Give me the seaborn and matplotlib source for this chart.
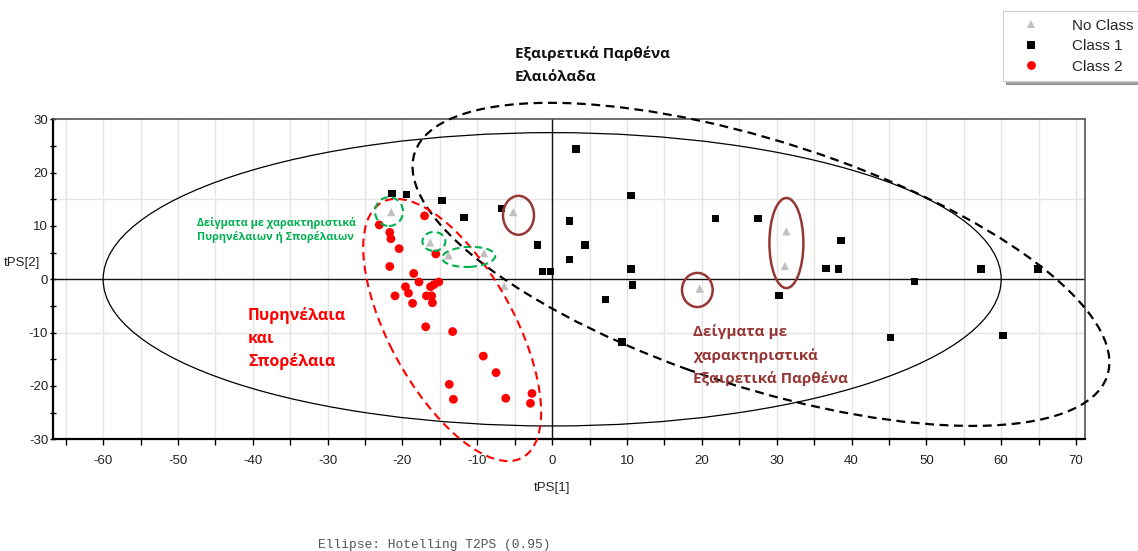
import matplotlib
matplotlib.use("Agg")
import matplotlib.pyplot as plt
from matplotlib.patches import Ellipse
from matplotlib.ticker import MultipleLocator
import numpy as np
import pandas as pd
import seaborn as sns

# --- score values (tPS[1], tPS[2]) per class ---
class1_t1 = [3.2, -21.4, -19.5, -14.7, 10.55, -6.8, -11.8, 21.8, 2.3, -2.0,
             4.4, 2.3, -1.25, -0.2, 10.55, 10.7, 7.1, 9.35, 27.5, 38.6,
             36.6, 38.3, 64.9, 57.3, 48.4, 30.3, 45.2, 60.25]
class1_t2 = [24.4, 16.1, 15.9, 14.8, 15.75, 13.3, 11.6, 11.4, 10.9, 6.4,
             6.4, 3.75, 1.5, 1.5, 1.9, -1.1, -3.75, -11.75, 11.4, 7.3,
             2.06, 1.9, 1.9, 1.9, -0.4, -3.0, -10.9, -10.5]

class2_t1 = [-17.05, -23.1, -21.7, -21.55, -20.45, -15.55, -21.7, -18.5, -17.8, -19.6,
             -16.25, -15.8, -15.15, -19.2, -21.0, -16.8, -16.1, -18.65, -16.0, -16.9,
             -13.3, -9.2, -7.5, -13.75, -13.2, -6.2, -2.7, -2.9]
class2_t2 = [11.9, 10.2, 8.8, 7.6, 5.75, 4.75, 2.4, 1.1, -0.5, -1.4,
             -1.4, -1.0, -0.5, -2.6, -3.1, -3.1, -3.1, -4.5, -4.4, -8.9,
             -9.8, -14.4, -17.5, -19.7, -22.5, -22.3, -21.4, -23.25]

noclass_t1 = [-21.5, -16.3, -13.85, -9.1, -5.2, 19.7, -6.4, 31.3, 31.1]
noclass_t2 = [12.6, 6.9, 4.5, 4.9, 12.6, -1.75, -1.25, 9.0, 2.5]

class_names = ["No Class", "Class 1", "Class 2"]

# Hotelling T2 ellipse semi-axes
t2_a = 60.0
t2_b = 27.5

df = pd.DataFrame({
    "tPS[1]": noclass_t1 + class1_t1 + class2_t1,
    "tPS[2]": noclass_t2 + class1_t2 + class2_t2,
    "Class": [class_names[0]] * len(noclass_t1)
             + [class_names[1]] * len(class1_t1)
             + [class_names[2]] * len(class2_t1),
})

sns.set_style("white")
plt.rcParams["font.family"] = ["Liberation Sans", "DejaVu Sans"]
plt.rcParams["axes.unicode_minus"] = False

W, H = 1138, 551
fig = plt.figure(figsize=(W / 100, H / 100), dpi=100)
ax = fig.add_axes([53 / W, 1 - 439.3 / H, (1085 - 53) / W, (439.3 - 119.3) / H])

ax.set_xlim(-66.7, 71.2)
ax.set_ylim(-30, 30)

# grid: vertical every 5 units, two horizontal reference lines
for gx in np.arange(-65, 71, 5):
    ax.axvline(gx, color="#e4e4e4", lw=1.0, zorder=0)
for gy in (15, -10):
    ax.axhline(gy, color="#e4e4e4", lw=1.0, zorder=0)
ax.axhline(0, color="#111111", lw=1.0, zorder=1)
ax.axvline(0, color="#111111", lw=1.0, zorder=1)

palette = {"No Class": "#c0c0c0", "Class 1": "#000000", "Class 2": "#ff0000"}
markers = {"No Class": "^", "Class 1": "s", "Class 2": "o"}
sizes = {"No Class": 36, "Class 1": 28, "Class 2": 40}

sns.scatterplot(data=df, x="tPS[1]", y="tPS[2]", hue="Class", style="Class",
                hue_order=class_names, style_order=class_names,
                palette=palette, markers=markers, size="Class",
                sizes=sizes, size_order=class_names,
                linewidth=0, ax=ax, zorder=3, legend=True)

# Hotelling T2 (0.95) ellipse
ax.add_patch(Ellipse((0, 0), 2 * t2_a, 2 * t2_b, fill=False, ec="black",
                     lw=0.9, zorder=2))

# group outlines
ax.add_patch(Ellipse((27.9, 2.8), 102, 44, angle=-26.9, fill=False, ec="black",
                     lw=1.6, ls=(0, (4, 2.5)), zorder=4, clip_on=False))
ax.add_patch(Ellipse((-13.36, -9.5), 51.7, 17.6, angle=-70.8, fill=False,
                     ec="#ff0000", lw=1.5, ls=(0, (4, 2.5)), zorder=4, clip_on=False))
green = "#00b050"
for c, w, h, ang in [((-21.8, 12.7), 3.74, 5.4, 0), ((-15.8, 7.1), 3.07, 3.56, 0),
                     ((-11.15, 4.2), 7.1, 3.75, 4)]:
    ax.add_patch(Ellipse(c, w, h, angle=ang, fill=False, ec=green, lw=1.5,
                         ls=(0, (3.5, 2)), zorder=5))
brown = "#953735"
for c, w, h in [((-4.5, 12.0), 4.14, 7.3), ((31.3, 6.8), 4.54, 16.9),
                ((19.4, -2.0), 4.1, 6.4)]:
    ax.add_patch(Ellipse(c, w, h, fill=False, ec=brown, lw=1.8, zorder=5))

# axes styling
for side in ("left", "bottom"):
    ax.spines[side].set_color("black")
    ax.spines[side].set_linewidth(1.6)
for side in ("top", "right"):
    ax.spines[side].set_color("#555555")
    ax.spines[side].set_linewidth(1.2)

ax.xaxis.set_major_locator(MultipleLocator(10))
ax.xaxis.set_minor_locator(MultipleLocator(5))
ax.yaxis.set_major_locator(MultipleLocator(10))
ax.yaxis.set_minor_locator(MultipleLocator(5))
ax.tick_params(axis="x", which="both", direction="out", length=4, width=1,
               color="black", bottom=True, pad=7, labelsize=9.5, labelcolor="#222222")
ax.tick_params(axis="y", which="both", direction="inout", length=5, width=1,
               color="black", left=True, pad=1, labelsize=9.5, labelcolor="#222222")

ax.set_xlabel("")
ax.set_ylabel("")
fig.text(552 / W, 1 - 488 / H, "tPS[1]", ha="center", va="center",
         fontsize=9.5, color="#222222")
fig.text(22 / W, 1 - 263 / H, "tPS[2]", ha="center", va="center",
         fontsize=9.5, color="#222222")

# legend
handles, labels = ax.get_legend_handles_labels()
ax.get_legend().remove()
leg = fig.legend(handles, labels, loc="upper left",
                 bbox_to_anchor=(1003 / W, 1 - 11 / H), bbox_transform=fig.transFigure,
                 frameon=True, fancybox=False, shadow=True, fontsize=11,
                 handlelength=2.7, handletextpad=1.33, borderpad=0.5,
                 labelspacing=0.43, borderaxespad=0)
leg.get_frame().set_edgecolor("#cccccc")
leg.get_frame().set_linewidth(0.8)

# annotations
bold = dict(family=["Open Sans", "DejaVu Sans"], fontweight="bold")
fig.text(515 / W, 1 - 54 / H, "Εξαιρετικά Παρθένα", ha="left", va="center",
         fontsize=11, color="#111111", **bold)
fig.text(515 / W, 1 - 77 / H, "Ελαιόλαδα", ha="left", va="center",
         fontsize=11, color="#111111", **bold)

for i, line in enumerate(["Δείγματα με χαρακτηριστικά", "Πυρηνέλαιων ή Σπορέλαιων"]):
    fig.text(197 / W, 1 - (222.7 + 14 * i) / H, line, ha="left", va="center",
             fontsize=7.8, color=green, **bold)

for i, line in enumerate(["Πυρηνέλαια", "και", "Σπορέλαια"]):
    fig.text(248 / W, 1 - (316 + 23 * i) / H, line, ha="left", va="center",
             fontsize=11.5, color="#ff0000", **bold)

for i, line in enumerate(["Δείγματα με", "χαρακτηριστικά", "Εξαιρετικά Παρθένα"]):
    fig.text(693 / W, 1 - (332 + 23.3 * i) / H, line, ha="left", va="center",
             fontsize=11, color=brown, **bold)

fig.text(318 / W, 1 - 545 / H, "Ellipse: Hotelling T2PS (0.95)", ha="left",
         va="center", fontsize=9.3, color="#555555",
         family=["Liberation Mono", "DejaVu Sans Mono"])

fig.savefig("out.png", dpi=100, facecolor="white")
